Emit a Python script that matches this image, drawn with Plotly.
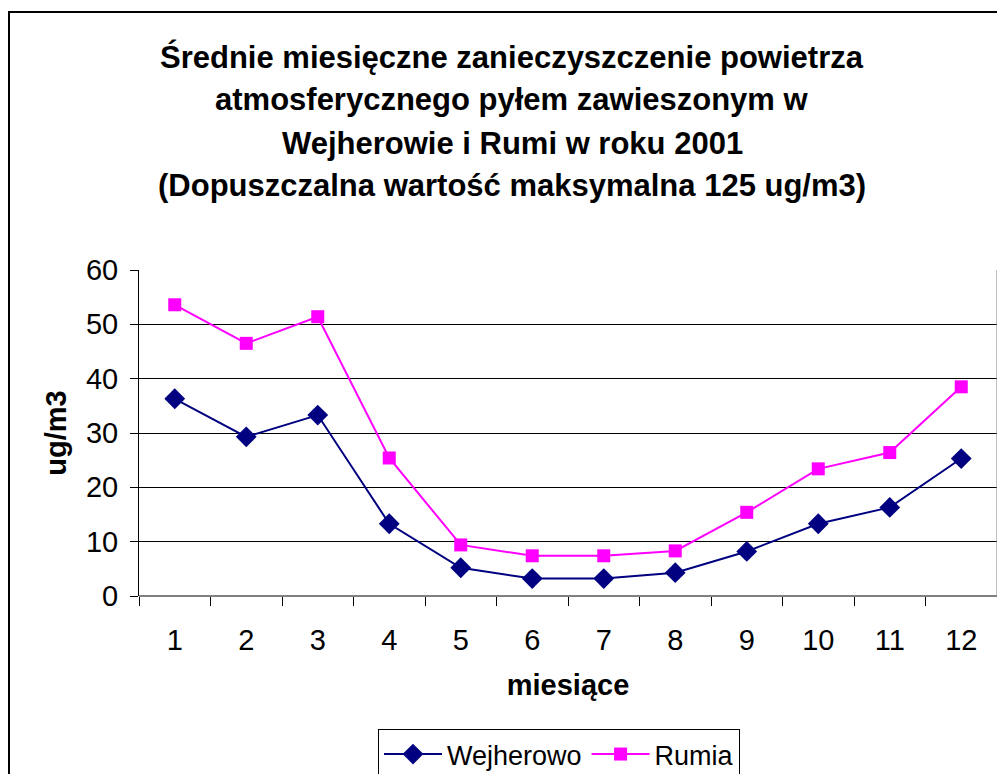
import plotly.graph_objects as go

months = [1, 2, 3, 4, 5, 6, 7, 8, 9, 10, 11, 12]
wejherowo = [36.3, 29.3, 33.3, 13.3, 5.2, 3.2, 3.2, 4.3, 8.2, 13.3, 16.3, 25.3]
rumia = [53.6, 46.5, 51.4, 25.4, 9.4, 7.4, 7.4, 8.3, 15.4, 23.4, 26.4, 38.5]
y_ticks = [0, 10, 20, 30, 40, 50, 60]
title_lines = [
    "Średnie miesięczne zanieczyszczenie powietrza",
    "atmosferycznego pyłem zawieszonym w",
    "Wejherowie i Rumi w roku 2001",
    "(Dopuszczalna wartość maksymalna 125 ug/m3)",
]

OFF = 8  # page body margin
W, H = 1005 - OFF, 774 - OFF
L, R, T, B = 139 - OFF, 8, 270 - OFF, 178
pw, ph = W - L - R, H - T - B

def px(x):  # reference page pixel -> paper
    return (x - OFF - L) / pw

def py(y):
    return (H - B - (y - OFF)) / ph

fig = go.Figure()
fig.add_trace(go.Scatter(
    x=months, y=wejherowo, name="Wejherowo", mode="lines+markers",
    line=dict(color="#000080", width=2),
    marker=dict(symbol="diamond", size=16, color="#000080"),
))
fig.add_trace(go.Scatter(
    x=months, y=rumia, name="Rumia", mode="lines+markers",
    line=dict(color="#FF00FF", width=2),
    marker=dict(symbol="square", size=13, color="#FF00FF"),
))

font = "Liberation Sans, Arial, sans-serif"
annotations = []
for t, yc in zip(title_lines, [57, 100, 143, 185]):
    annotations.append(dict(
        text="<b>" + t + "</b>", x=px(512), y=py(yc), xref="paper", yref="paper",
        xanchor="center", yanchor="middle", showarrow=False,
        font=dict(family=font, size=31, color="black"),
    ))

fig.update_layout(
    width=W, height=H,
    margin=dict(l=L, r=R, t=T, b=B, autoexpand=False),
    paper_bgcolor="white", plot_bgcolor="white",
    showlegend=True,
    legend=dict(
        orientation="h", x=px(378), y=py(729), xanchor="left", yanchor="top",
        bordercolor="black", borderwidth=1,
        font=dict(family=font, size=27, color="black"),
        tracegroupgap=0, itemwidth=58,
    ),
    annotations=annotations,
    shapes=[dict(type="rect", xref="paper", yref="paper",
                 x0=px(9), x1=px(1030), y0=py(12), y1=py(820),
                 line=dict(color="black", width=2), fillcolor="rgba(0,0,0,0)",
                 layer="below")],
    xaxis=dict(
        range=[0.5, 12.5], tickmode="array", tickvals=months,
        ticktext=[str(m) for m in months], ticks="", showgrid=False,
        zeroline=False, showline=False, ticklabelstandoff=24,
        tickfont=dict(family=font, size=29, color="black"),
        minor=dict(tickmode="linear", tick0=0.5, dtick=1, ticks="outside",
                   ticklen=9, tickcolor="black", tickwidth=1, showgrid=False),
        title=dict(text="<b>miesiące</b>", font=dict(family=font, size=29, color="black"), standoff=19),
        fixedrange=True,
    ),
    yaxis=dict(
        range=[0, 60], tickmode="array", tickvals=y_ticks,
        ticks="outside", ticklen=8, tickcolor="black", ticklabelstandoff=6,
        showgrid=True, gridcolor="black", gridwidth=1,
        zeroline=False, showline=True, linecolor="black", linewidth=1,
        tickfont=dict(family=font, size=29, color="black"),
        title=dict(text="<b>ug/m3</b>", font=dict(family=font, size=29, color="black"), standoff=10),
    ),
)
fig.add_shape(type="line", xref="paper", yref="paper", x0=0, x1=1, y0=0, y1=0,
              line=dict(color="black", width=1))
fig.add_shape(type="line", xref="paper", yref="paper", x0=1, x1=1, y0=0, y1=1,
              line=dict(color="#808080", width=1))

fig.write_html("out.html")
